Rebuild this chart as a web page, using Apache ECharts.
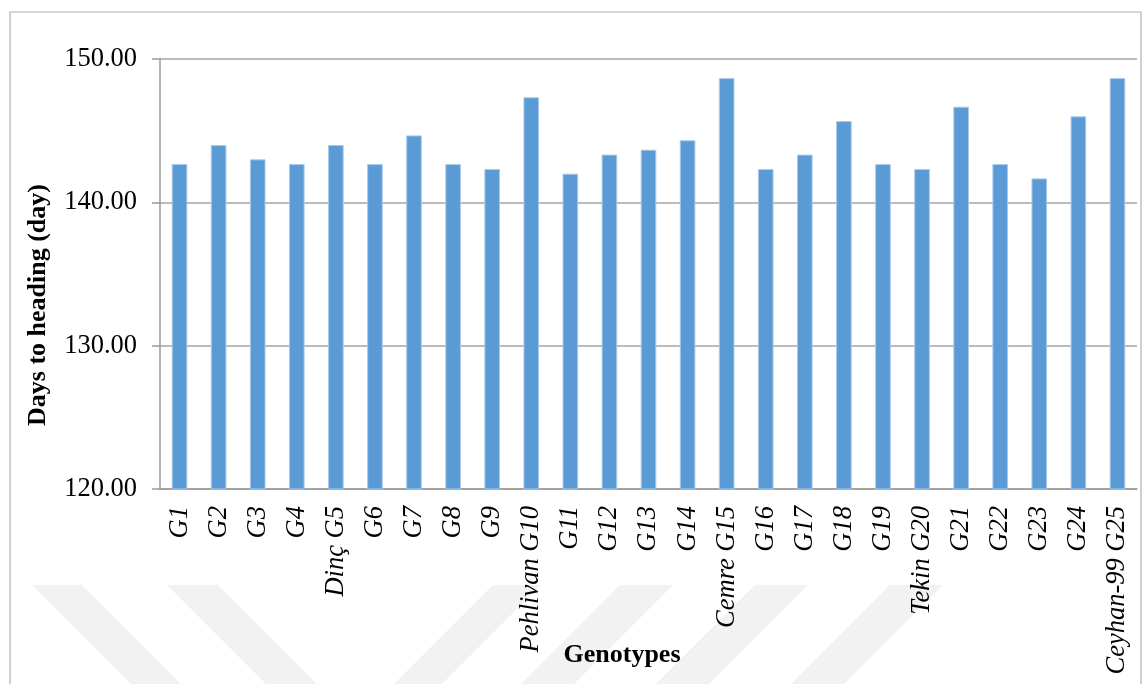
<!DOCTYPE html>
<html>
<head>
<meta charset="utf-8">
<script src="https://cdn.jsdelivr.net/npm/echarts@6/dist/echarts.min.js"></script>
<style>
  html, body { margin: 0; padding: 0; background: #fff; }
  #chart { width: 1142px; height: 684px; }
</style>
</head>
<body>
<div id="chart"></div>
<script>
// Genotype labels (check cultivars carry their name)
const genotypes = [
  'G1', 'G2', 'G3', 'G4', 'Dinç G5', 'G6', 'G7', 'G8', 'G9', 'Pehlivan G10',
  'G11', 'G12', 'G13', 'G14', 'Cemre G15', 'G16', 'G17', 'G18', 'G19', 'Tekin G20',
  'G21', 'G22', 'G23', 'G24', 'Ceyhan-99 G25'
];

// Mean days to heading per genotype
const daysToHeading = [
  142.67, 144.00, 143.00, 142.67, 144.00, 142.67, 144.67, 142.67, 142.33, 147.33,
  142.00, 143.33, 143.67, 144.33, 148.67, 142.33, 143.33, 145.67, 142.67, 142.33,
  146.67, 142.67, 141.67, 146.00, 148.67
];

// Value axis range
const yMin = 120;
const yMax = 150;
const yStep = 10;

const serif = '"Liberation Serif", "Times New Roman", serif';

// Faint background chevrons along the bottom edge
function stripe(xTop, width, dir) {
  const h = 110;
  const y0 = 585;
  const dx = dir * h;
  return {
    type: 'polygon',
    z: -10,
    silent: true,
    shape: { points: [[xTop, y0], [xTop + width, y0], [xTop + width + dx, y0 + h], [xTop + dx, y0 + h]] },
    style: { fill: '#f2f2f2' }
  };
}

const chart = echarts.init(document.getElementById('chart'), null, { renderer: 'canvas' });

chart.setOption({
  backgroundColor: '#ffffff',
  animation: false,
  grid: { left: 160, right: 5, top: 59, bottom: 195, containLabel: false },
  graphic: [
    stripe(32, 50, 1),
    stripe(167, 51, 1),
    stripe(493, 48, -1),
    stripe(620, 53, -1),
    stripe(755, 53, -1),
    stripe(890, 53, -1),
    {
      type: 'rect',
      z: -5,
      silent: true,
      shape: { x: 10, y: 12, width: 1131, height: 700 },
      style: { fill: 'none', stroke: '#b0b0b0', lineWidth: 1.2 }
    },
    {
      type: 'text',
      x: 622, y: 655,
      style: {
        text: 'Genotypes',
        x: 0, y: 0,
        align: 'center', verticalAlign: 'middle',
        font: 'bold 26px ' + serif,
        fill: '#000'
      }
    },
    {
      type: 'text',
      x: 38, y: 305,
      rotation: Math.PI / 2,
      style: {
        text: 'Days to heading (day)',
        x: 0, y: 0,
        align: 'center', verticalAlign: 'middle',
        font: 'bold 26px ' + serif,
        fill: '#000'
      }
    }
  ],
  xAxis: {
    type: 'category',
    data: genotypes,
    axisLine: { show: true, lineStyle: { color: '#9a9a9a', width: 1.5 } },
    axisTick: { show: false },
    axisLabel: {
      rotate: 90,
      interval: 0,
      margin: 17,
      fontFamily: serif,
      fontStyle: 'italic',
      fontSize: 26.5,
      color: '#000'
    },
    splitLine: { show: false }
  },
  yAxis: {
    type: 'value',
    min: yMin,
    max: yMax,
    interval: yStep,
    axisLine: { show: true, lineStyle: { color: '#9a9a9a', width: 1.5 } },
    axisTick: { show: true, length: 8, lineStyle: { color: '#9a9a9a', width: 1.5 } },
    axisLabel: {
      margin: 23,
      fontFamily: serif,
      fontSize: 26.5,
      color: '#000',
      formatter: v => v.toFixed(2)
    },
    splitLine: { show: true, lineStyle: { color: '#a4a4a4', width: 1.5 } }
  },
  series: [{
    type: 'bar',
    data: daysToHeading,
    barWidth: '40%',
    itemStyle: { color: '#5b9bd5', borderColor: '#a9c9ea', borderWidth: 1 }
  }]
});
</script>
</body>
</html>
